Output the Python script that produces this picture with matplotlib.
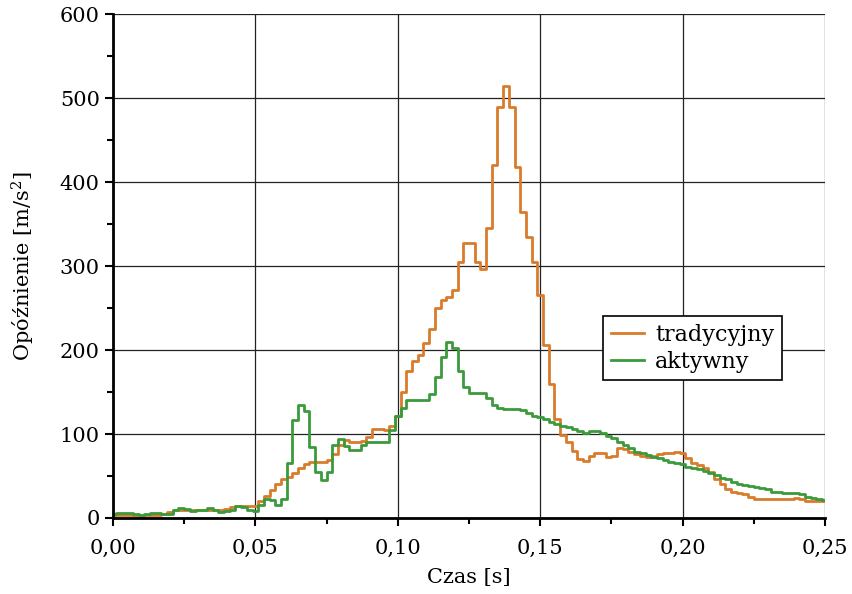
import numpy as np
import matplotlib
matplotlib.use("Agg")
import matplotlib.pyplot as plt
from matplotlib.ticker import MultipleLocator, FuncFormatter

plt.rcParams['font.family'] = ['DejaVu Serif']
plt.rcParams['mathtext.fontset'] = 'dejavuserif'

# sample times [s], every 2 ms
czas = np.arange(126) * 0.002

tradycyjny = [3, 3, 3, 3, 2, 2, 3, 3, 3, 5,
              7, 10, 10, 9, 9, 10, 9, 10, 10, 10,
              11, 13, 14, 14, 14, 14, 20, 26, 33, 41,
              46, 49, 54, 59, 64, 67, 67, 67, 69, 76,
              87, 93, 91, 91, 92, 96, 106, 106, 105, 109,
              122, 150, 175, 187, 194, 208, 225, 250, 260, 263,
              272, 305, 328, 328, 305, 296, 345, 420, 490, 515,
              490, 418, 365, 335, 305, 265, 206, 160, 118, 99,
              90, 80, 70, 68, 74, 77, 77, 73, 74, 83,
              82, 78, 76, 74, 73, 74, 76, 77, 77, 78,
              77, 71, 66, 63, 60, 55, 47, 40, 35, 31,
              30, 28, 25, 23, 22, 22, 22, 22, 23, 23,
              24, 22, 20, 20, 20, 20]

aktywny = [5, 6, 6, 6, 5, 4, 5, 6, 6, 5,
           5, 9, 12, 11, 8, 9, 9, 12, 9, 7,
           8, 10, 14, 13, 9, 8, 15, 22, 21, 15,
           22, 65, 117, 135, 128, 85, 55, 45, 55, 87,
           94, 86, 81, 81, 87, 90, 90, 90, 91, 105,
           122, 131, 140, 141, 141, 140, 148, 168, 192, 210,
           203, 175, 156, 149, 149, 149, 143, 135, 131, 130,
           130, 130, 129, 125, 122, 120, 118, 114, 112, 110,
           108, 106, 103, 101, 103, 104, 101, 98, 95, 91,
           87, 83, 79, 77, 75, 73, 71, 69, 67, 65,
           64, 61, 59, 58, 56, 54, 51, 48, 46, 43,
           41, 39, 38, 37, 36, 34, 31, 31, 30, 30,
           30, 28, 25, 24, 22, 21]

fig = plt.figure(figsize=(8.52, 5.94), dpi=100)
ax = fig.add_axes([0.1326, 0.128, 0.8357, 0.848])

ax.plot(czas, tradycyjny, color='#d97b2b', lw=2, drawstyle='steps-mid', label='tradycyjny')
ax.plot(czas, aktywny, color='#3b9a3b', lw=2, drawstyle='steps-mid', label='aktywny')

ax.set_xlim(0, 0.25)
ax.set_ylim(0, 600)
ax.xaxis.set_major_locator(MultipleLocator(0.05))
ax.xaxis.set_minor_locator(MultipleLocator(0.025))
ax.yaxis.set_major_locator(MultipleLocator(100))
ax.yaxis.set_minor_locator(MultipleLocator(50))
ax.xaxis.set_major_formatter(FuncFormatter(lambda v, p: f"{v:.2f}".replace('.', ',')))

ax.grid(True, which='major', color='#222222', lw=0.9)
ax.set_axisbelow(True)
for s in ['top', 'right']:
    ax.spines[s].set_visible(False)
for s in ['left', 'bottom']:
    ax.spines[s].set_linewidth(2)
ax.tick_params(which='major', direction='out', length=6, width=1.5, labelsize=15)
ax.tick_params(axis='x', which='major', pad=9)
ax.tick_params(which='minor', direction='out', length=4, width=1.5)

ax.set_xlabel('Czas [s]', fontsize=15, labelpad=7)
ax.set_ylabel(r'Opóźnienie [m/s$^2$]', fontsize=15, labelpad=16)

leg = ax.legend(loc='upper left', bbox_to_anchor=(0.688, 0.4), fontsize=16, frameon=True,
                fancybox=False, edgecolor='black', framealpha=1, borderpad=0.35,
                handlelength=1.5, handletextpad=0.5, labelspacing=0.2, borderaxespad=0)
leg.get_frame().set_linewidth(1.2)

fig.savefig('out.png', dpi=100)
